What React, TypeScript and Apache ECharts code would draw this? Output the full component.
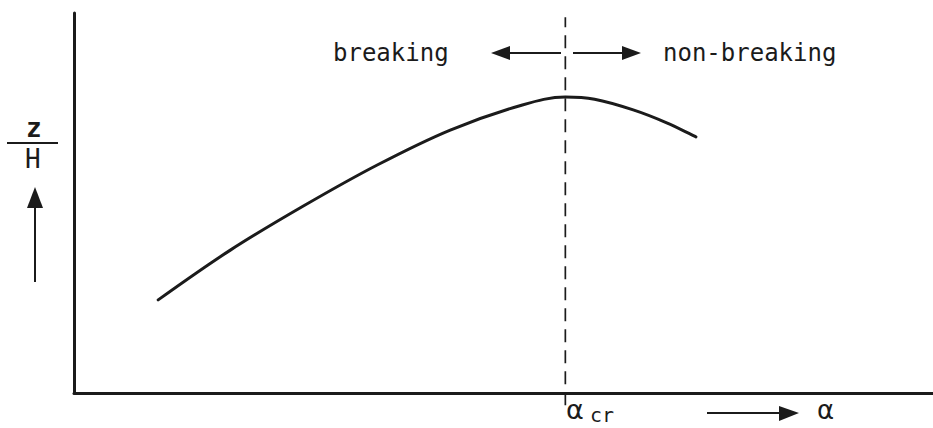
import React, { useEffect, useRef } from "react";
import * as echarts from "echarts";

// Curve z/H against alpha (arbitrary units)
const alphaValues = [9.8, 18.2, 26.7, 35.3, 43.8, 52.2, 57.2, 60.6, 65.1, 69.0, 72.4];
const zOverH = [24.5, 37.6, 49.2, 60.0, 69.2, 75.8, 77.9, 77.3, 74.5, 71.1, 67.4];
const alphaCritical = 57.2;
const criticalSpan = [-3.2, 98.9];
const topLabels = ["breaking", "non-breaking"];
const yLabel = ["z", "H"];
const xLabel = "α";
const critLabel = ["α", "cr"];

const INK = "#1b1b1b";

export default function App() {
  const ref = useRef<HTMLDivElement>(null);
  useEffect(() => {
    if (!ref.current) return;
    const chart = echarts.init(ref.current, undefined, { renderer: "svg" });
    const curve = alphaValues.map((a, i) => [a, zOverH[i]]);
    const crit = criticalSpan.map((v) => [alphaCritical, v]);
    const axisCommon = {
      type: "value" as const,
      min: 0,
      max: 100,
      axisLine: { show: true, lineStyle: { color: INK, width: 3 } },
      axisTick: { show: false },
      axisLabel: { show: false },
      splitLine: { show: false },
    };
    chart.setOption({
      animation: false,
      backgroundColor: "#ffffff",
      grid: { left: 74, right: 0, top: 13, bottom: 35 },
      xAxis: { ...axisCommon },
      yAxis: { ...axisCommon },
      series: [
        {
          type: "line",
          data: curve,
          smooth: 0.35,
          symbol: "none",
          lineStyle: { color: INK, width: 3, cap: "round" },
          silent: true,
        },
        {
          type: "line",
          data: crit,
          clip: false,
          symbol: "none",
          lineStyle: { color: INK, width: 1.7, type: [13, 8] },
          silent: true,
        },
      ],
      graphic: [
        // top annotations
        {
          type: "text",
          left: 333,
          top: 41,
          style: { text: topLabels[0], font: "24px 'DejaVu Sans Mono'", fill: INK },
        },
        {
          type: "text",
          left: 663,
          top: 41,
          style: { text: topLabels[1], font: "24px 'DejaVu Sans Mono'", fill: INK },
        },
        { type: "line", shape: { x1: 561, y1: 53, x2: 508, y2: 53 }, style: { stroke: INK, lineWidth: 2 } },
        { type: "polygon", shape: { points: [[491, 53], [510, 46], [510, 60]] }, style: { fill: INK } },
        { type: "line", shape: { x1: 573, y1: 53, x2: 625, y2: 53 }, style: { stroke: INK, lineWidth: 2 } },
        { type: "polygon", shape: { points: [[641, 53], [622, 46], [622, 60]] }, style: { fill: INK } },
        // y label z/H with arrow
        {
          type: "text",
          left: 26,
          top: 115,
          style: { text: yLabel[0], font: "bold 26px 'DejaVu Sans Mono'", fill: INK },
        },
        { type: "line", shape: { x1: 7, y1: 143, x2: 58, y2: 143 }, style: { stroke: INK, lineWidth: 2 } },
        {
          type: "text",
          left: 25,
          top: 146,
          style: { text: yLabel[1], font: "26px 'DejaVu Sans Mono'", fill: INK },
        },
        { type: "line", shape: { x1: 35, y1: 282, x2: 35, y2: 204 }, style: { stroke: INK, lineWidth: 2 } },
        { type: "polygon", shape: { points: [[35, 187], [27, 208], [43, 208]] }, style: { fill: INK } },
        // x annotations
        {
          type: "text",
          left: 566,
          top: 396,
          style: { text: critLabel[0], font: "27px 'DejaVu Sans'", fill: INK },
        },
        {
          type: "text",
          left: 590,
          top: 405,
          style: { text: critLabel[1], font: "20px 'DejaVu Sans Mono'", fill: INK },
        },
        { type: "line", shape: { x1: 707, y1: 413, x2: 783, y2: 413 }, style: { stroke: INK, lineWidth: 2 } },
        { type: "polygon", shape: { points: [[799, 413], [779, 406], [779, 421]] }, style: { fill: INK } },
        {
          type: "text",
          left: 817,
          top: 397,
          style: { text: xLabel, font: "26px 'DejaVu Sans'", fill: INK },
        },
      ],
    });
    return () => chart.dispose();
  }, []);
  return (
    <div
      ref={ref}
      style={{ position: "fixed", left: 0, top: 0, width: 933, height: 428, background: "#fff" }}
    />
  );
}
